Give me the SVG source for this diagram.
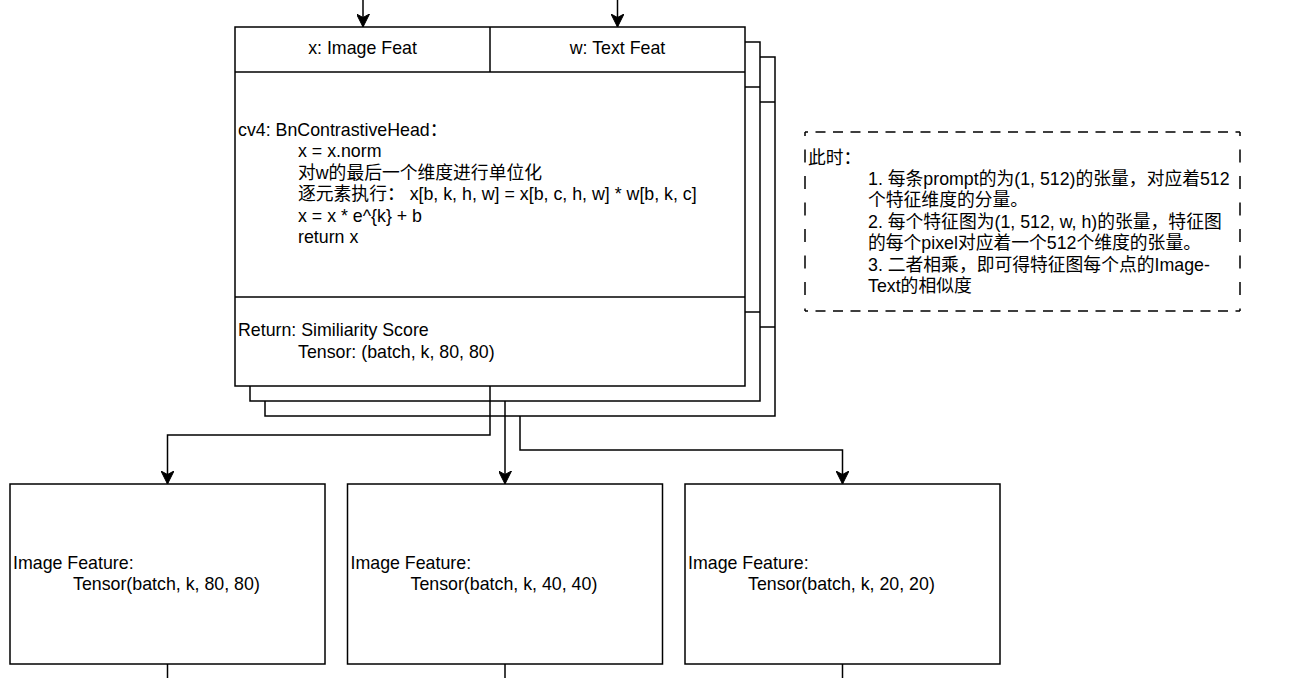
<svg xmlns="http://www.w3.org/2000/svg" width="1315" height="678" viewBox="0 0 1315 678">
<style>
  .box { fill: #ffffff; stroke: #000000; stroke-width: 1.5; }
  .ln { fill: none; stroke: #000000; stroke-width: 1.5; }
  .cn { fill: none; stroke: #000000; stroke-width: 1.5; }
  .arr { marker-end: url(#arrow); }
  .dh { fill: none; stroke: #000000; stroke-width: 1.5; stroke-dasharray: 10 7.5; stroke-dashoffset: 7; }
  .dv { fill: none; stroke: #000000; stroke-width: 1.5; stroke-dasharray: 13 13.5; stroke-dashoffset: 9; }
  text { font-family: "Liberation Sans", Arial, "Noto Sans CJK SC", sans-serif; font-size: 17.8px; fill: #000000; }
  .c { text-anchor: middle; }
</style>
<defs>
  <marker id="arrow" viewBox="0 0 13 13" refX="13" refY="6.5" markerWidth="13" markerHeight="13" markerUnits="userSpaceOnUse" orient="auto">
    <path d="M0,0 L13,6.5 L0,13 L3.5,6.5 Z" fill="#000000" stroke="#000000" stroke-width="1"/>
  </marker>
</defs>
<rect width="1315" height="678" fill="#ffffff"/>

<g id="main-head-layer3">
  <rect class="box" x="265" y="57" width="510" height="359"/>
  <line class="ln" x1="265" y1="102" x2="775" y2="102"/>
  <line class="ln" x1="265" y1="327" x2="775" y2="327"/>
</g>
<g id="main-head-layer2">
  <rect class="box" x="250" y="42" width="510" height="359"/>
  <line class="ln" x1="250" y1="87" x2="760" y2="87"/>
  <line class="ln" x1="250" y1="312" x2="760" y2="312"/>
</g>
<g id="main-head">
  <rect class="box" x="235" y="27" width="510" height="359"/>
  <line class="ln" x1="235" y1="72" x2="745" y2="72"/>
  <line class="ln" x1="490" y1="27" x2="490" y2="72"/>
  <line class="ln" x1="235" y1="297" x2="745" y2="297"/>
  <text class="c" x="362.5" y="54">x: Image Feat</text>
  <text class="c" x="617.5" y="54">w: Text Feat</text>
  <text x="238" y="135.5">cv4: BnContrastiveHead：</text>
  <text x="298" y="157">x = x.norm</text>
  <text x="298" y="178.5">对w的最后一个维度进行单位化</text>
  <text x="298" y="200">逐元素执行： x[b, k, h, w] = x[b, c, h, w] * w[b, k, c]</text>
  <text x="298" y="221.5">x = x * e^{k} + b</text>
  <text x="298" y="243">return x</text>
  <text x="238" y="336">Return: Similiarity Score</text>
  <text x="298" y="357.5">Tensor: (batch, k, 80, 80)</text>
</g>

<g id="note">
  <line class="dh" x1="805" y1="132" x2="1240" y2="132"/>
  <line class="dh" x1="805" y1="311" x2="1240" y2="311"/>
  <line class="dv" x1="805" y1="132" x2="805" y2="311"/>
  <line class="dv" x1="1240" y1="132" x2="1240" y2="311"/>
  <text x="808" y="163.5">此时：</text>
  <text x="868" y="185">1. 每条prompt的为(1, 512)的张量，对应着512</text>
  <text x="868" y="206.4">个特征维度的分量。</text>
  <text x="868" y="227.8">2. 每个特征图为(1, 512, w, h)的张量，特征图</text>
  <text x="868" y="249.2">的每个pixel对应着一个512个维度的张量。</text>
  <text x="868" y="270.6">3. 二者相乘，即可得特征图每个点的Image-</text>
  <text x="868" y="292">Text的相似度</text>
</g>

<g id="feat-80">
  <rect class="box" x="10" y="484" width="315" height="180"/>
  <text x="13" y="569">Image Feature:</text>
  <text x="73" y="590">Tensor(batch, k, 80, 80)</text>
</g>
<g id="feat-40">
  <rect class="box" x="347.5" y="484" width="315" height="180"/>
  <text x="350.5" y="569">Image Feature:</text>
  <text x="410.5" y="590">Tensor(batch, k, 40, 40)</text>
</g>
<g id="feat-20">
  <rect class="box" x="685" y="484" width="315" height="180"/>
  <text x="688" y="569">Image Feature:</text>
  <text x="748" y="590">Tensor(batch, k, 20, 20)</text>
</g>

<g id="connectors">
  <path class="cn arr" d="M363,-5 L363,27"/>
  <path class="cn arr" d="M617.5,-5 L617.5,27"/>
  <path class="cn arr" d="M490,386 L490,435 L167.5,435 L167.5,484"/>
  <path class="cn arr" d="M505,401 L505,484"/>
  <path class="cn arr" d="M520,416 L520,450 L842.5,450 L842.5,484"/>
  <path class="cn" d="M167.5,664 L167.5,690"/>
  <path class="cn" d="M505,664 L505,690"/>
  <path class="cn" d="M842.5,664 L842.5,690"/>
</g>
</svg>
